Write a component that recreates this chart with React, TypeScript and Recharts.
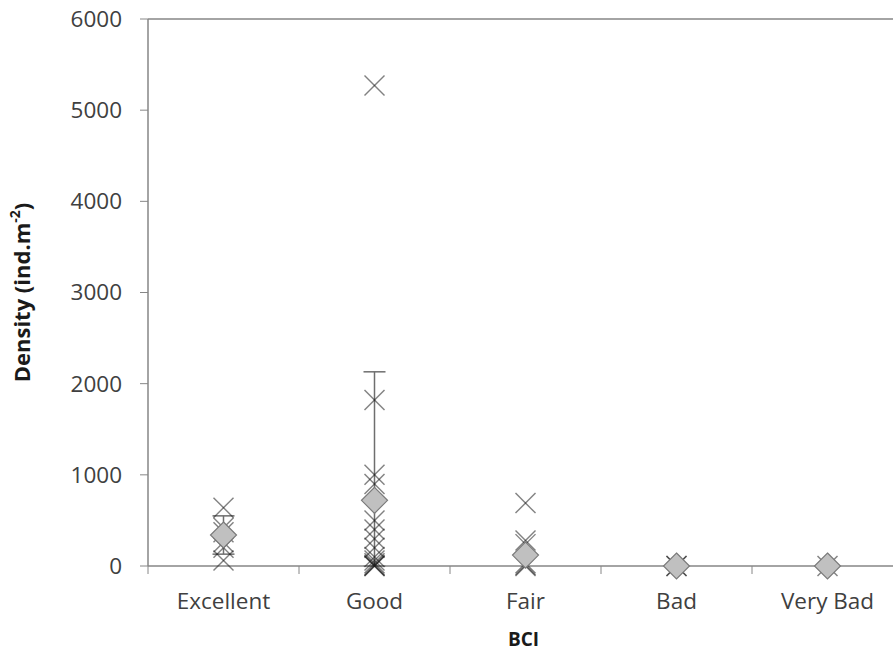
import { ScatterChart, Scatter, XAxis, YAxis, ErrorBar, ReferenceLine, Label } from 'recharts'

// BCI classes
const categories = ['Excellent', 'Good', 'Fair', 'Bad', 'Very Bad']

// individual site densities (ind.m-2) per class
const excellent = [640, 420, 370, 260, 200, 60]
const good = [5270, 1820, 1000, 900, 500, 400, 300, 200, 100, 60, 30, 10, 0, 0]
const fair = [690, 280, 240, 30, 10, 0]
const bad = [0, 0]
const veryBad = [0]

// class means and error (lower, upper)
const means = [340, 720, 120, 0, 0]
const errLow = [210, 720, 0, 0, 0]
const errHigh = [210, 1410, 0, 0, 0]

const yTicks = [0, 1000, 2000, 3000, 4000, 5000, 6000]
const xTicks = [0, 0.5, 1, 1.5, 2, 2.5, 3, 3.5, 4, 4.5, 5]

const sites = [excellent, good, fair, bad, veryBad].flatMap((vals, i) =>
  vals.map((v) => ({ x: i + 0.5, y: v }))
)
const meanData = means.map((m, i) => ({ x: i + 0.5, y: m, err: [errLow[i], errHigh[i]] }))

const axisGrey = '#868686'
const font = '"Open Sans", sans-serif'

const CrossShape = (props: any) => {
  const { cx, cy } = props
  const r = 10
  return (
    <g stroke="#1a1a1a" strokeOpacity={0.55} strokeWidth={1.4}>
      <line x1={cx - r} y1={cy - r} x2={cx + r} y2={cy + r} />
      <line x1={cx - r} y1={cy + r} x2={cx + r} y2={cy - r} />
    </g>
  )
}

const DiamondShape = (props: any) => {
  const { cx, cy } = props
  const r = 13
  return (
    <path
      d={`M${cx},${cy - r}L${cx + r},${cy}L${cx},${cy + r}L${cx - r},${cy}Z`}
      fill="#c0c0c0"
      stroke="#7a7a7a"
      strokeWidth={1.2}
    />
  )
}

const XTick = (props: any) => {
  const { x, y, payload } = props
  const v = payload.value
  if (Number.isInteger(v)) {
    return <line x1={x} y1={y} x2={x} y2={y + 8} stroke={axisGrey} />
  }
  return (
    <text x={x} y={y + 43} textAnchor="middle" fill="#404040" fontSize={22.5} fontFamily={font}>
      {categories[Math.floor(v)]}
    </text>
  )
}

const XTitle = (props: any) => {
  const { viewBox } = props
  return (
    <text
      x={viewBox.x + viewBox.width / 2 - 2}
      y={646}
      textAnchor="middle"
      fontSize={19}
      fontWeight="bold"
      fontFamily={font}
      fill="#1a1a1a"
    >
      BCI
    </text>
  )
}

const YTitle = (props: any) => {
  const { viewBox } = props
  const cx = 24
  const cy = viewBox.y + viewBox.height / 2
  return (
    <text
      x={cx}
      y={cy}
      transform={`rotate(-90, ${cx}, ${cy})`}
      textAnchor="middle"
      dominantBaseline="middle"
      fontSize={22}
      fontWeight="bold"
      fontFamily={font}
      fill="#1a1a1a"
    >
      Density (ind.m
      <tspan fontSize={14} dy={-8}>-2</tspan>
      <tspan dy={8}>)</tspan>
    </text>
  )
}

export default function App() {
  return (
    <div
      style={{
        position: 'absolute',
        left: 0,
        top: 0,
        width: 893,
        height: 656,
        overflow: 'hidden',
        background: '#fff',
      }}
    >
      <ScatterChart width={910} height={656} margin={{ top: 19, right: 7, bottom: 30, left: 0 }}>
        <XAxis
          type="number"
          dataKey="x"
          domain={[0, 5]}
          ticks={xTicks}
          interval={0}
          height={60}
          tickLine={false}
          tickSize={0}
          tickMargin={0}
          axisLine={{ stroke: axisGrey, strokeWidth: 1.5 }}
          tick={<XTick />}
        >
          <Label content={<XTitle />} />
        </XAxis>
        <YAxis
          type="number"
          dataKey="y"
          domain={[0, 6000]}
          ticks={yTicks}
          interval={0}
          width={148}
          tickSize={8}
          tickMargin={18}
          axisLine={{ stroke: axisGrey, strokeWidth: 1.5 }}
          tickLine={{ stroke: axisGrey }}
          tick={{ fill: '#404040', fontSize: 22.5, fontFamily: font }}
        >
          <Label content={<YTitle />} />
        </YAxis>
        <ReferenceLine y={6000} stroke={axisGrey} strokeWidth={1.5} />
        <ReferenceLine x={5} stroke={axisGrey} strokeWidth={1.5} />
        <Scatter data={sites} shape={<CrossShape />} isAnimationActive={false} />
        <Scatter data={meanData} shape={<DiamondShape />} isAnimationActive={false}>
          <ErrorBar dataKey="err" direction="y" width={11} stroke="#6e6e6e" strokeWidth={1.5} />
        </Scatter>
      </ScatterChart>
    </div>
  )
}
